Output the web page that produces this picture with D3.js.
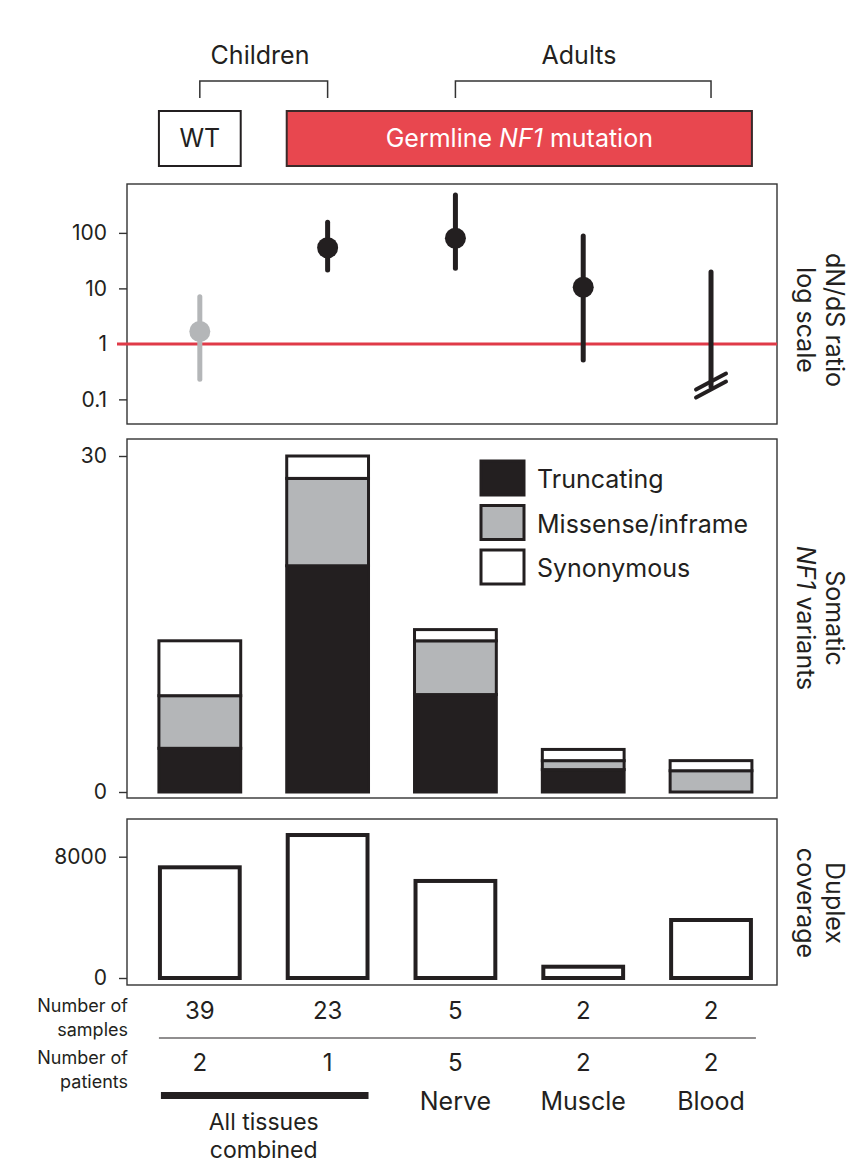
<!DOCTYPE html>
<html>
<head>
<meta charset="utf-8">
<script src="https://cdn.jsdelivr.net/npm/d3@7"></script>
<style>
  body { margin: 0; background: #fff; }
  text { font-family: Inter, "Open Sans", sans-serif; fill: #231f20; }
</style>
</head>
<body>
<div id="wrapper"></div>
<script>
// data
const groups = ["WT children", "NF1 children", "Nerve", "Muscle", "Blood"]
const dndsEst = [1.67, 54, 80, 10.5, null]
const dndsLow = [0.23, 21.5, 23, 0.51, 0.17]
const dndsHigh = [7.1, 155, 484, 88, 19.8]
const lowCut = [false, false, false, false, true]
const truncating = [3.9, 20.2, 8.7, 2.0, 0]
const missense = [4.7, 7.8, 4.8, 0.8, 1.9]
const synonymous = [4.9, 2.0, 1.0, 1.0, 0.9]
const coverage = [7300, 9430, 6400, 745, 3825]
const nSamples = [39, 23, 5, 2, 2]
const nPatients = [2, 1, 5, 2, 2]
const tissueLabels = ["", "", "Nerve", "Muscle", "Blood"]
const logTicks = [0.1, 1, 10, 100]
const variantTicks = [0, 30]
const coverageTicks = [0, 8000]
const variantKeys = ["Truncating", "Missense/inframe", "Synonymous"]

function drawChart() {
  const dims = {
    width: 851,
    height: 1165,
    left: 127,
    right: 777,
    p1: { top: 184, bottom: 424 },
    p2: { top: 439, bottom: 798 },
    p3: { top: 819, bottom: 985 }
  }
  const ink = "#231f20"
  const grey = "#b4b6b8"

  const svg = d3.select("#wrapper")
    .append("svg")
      .attr("width", dims.width)
      .attr("height", dims.height)

  // scales
  const x = d3.scaleBand()
    .domain(groups)
    .range([dims.left, dims.right])
    .paddingInner(0.36)
    .paddingOuter(0.223)
    .align(0.56)
  const bw = x.bandwidth()
  const cx = d => x(d) + bw / 2

  const yLog = d3.scaleLog()
    .domain([0.036, 760])
    .range([dims.p1.bottom, dims.p1.top])

  const yVar = d3.scaleLinear()
    .domain([0, 30])
    .range([792, 456])

  const yCov = d3.scaleLinear()
    .domain([0, 8000])
    .range([978, 856.7])

  // header
  svg.append("text").attr("x", 260).attr("y", 64)
    .attr("text-anchor", "middle").style("font-size", "25px").text("Children")
  svg.append("text").attr("x", 579).attr("y", 64)
    .attr("text-anchor", "middle").style("font-size", "25px").text("Adults")

  const bracket = (a, b) => `M${cx(a)},98V81H${cx(b)}V98`
  svg.append("path").attr("d", bracket(groups[0], groups[1]))
    .attr("fill", "none").attr("stroke", "#333").attr("stroke-width", 1.5)
  svg.append("path").attr("d", bracket(groups[2], groups[4]))
    .attr("fill", "none").attr("stroke", "#333").attr("stroke-width", 1.5)

  svg.append("rect")
    .attr("x", x(groups[0])).attr("y", 111)
    .attr("width", bw).attr("height", 55)
    .attr("fill", "#fff").attr("stroke", ink).attr("stroke-width", 2)
  svg.append("text").attr("x", cx(groups[0])).attr("y", 147)
    .attr("text-anchor", "middle").style("font-size", "25px").text("WT")

  svg.append("rect")
    .attr("x", x(groups[1])).attr("y", 111)
    .attr("width", x(groups[4]) + bw - x(groups[1])).attr("height", 55)
    .attr("fill", "#e8474f").attr("stroke", "#3a2a2a").attr("stroke-width", 2)
  const germ = svg.append("text")
    .attr("x", (x(groups[1]) + x(groups[4]) + bw) / 2).attr("y", 147)
    .attr("text-anchor", "middle").style("font-size", "25px")
  germ.append("tspan").style("fill", "#fff").text("Germline ")
  germ.append("tspan").style("fill", "#fff").style("font-style", "italic").text("NF1")
  germ.append("tspan").style("fill", "#fff").text(" mutation")

  // panel frames
  const frame = p => svg.append("rect")
    .attr("x", dims.left).attr("y", p.top)
    .attr("width", dims.right - dims.left).attr("height", p.bottom - p.top)
    .attr("fill", "none").attr("stroke", "#333").attr("stroke-width", 1.4)

  const axis = (scale, ticks, fmt) => {
    const g = svg.append("g")
      .attr("transform", `translate(${dims.left},0)`)
      .call(d3.axisLeft(scale).tickValues(ticks).tickFormat(fmt)
        .tickSize(8).tickPadding(12))
    g.select(".domain").remove()
    g.selectAll(".tick line").attr("stroke", "#333").attr("stroke-width", 1.4)
    g.selectAll(".tick text")
      .style("font-size", "21px").style("font-family", "Inter, sans-serif")
      .attr("fill", ink)
    return g
  }

  const sideLabel = (lines, yMid) => {
    lines.forEach((parts, i) => {
      const t = svg.append("text")
        .attr("transform", `translate(${826 - i * 29},${yMid}) rotate(90)`)
        .attr("text-anchor", "middle")
        .style("font-size", "25px")
      parts.forEach(p => t.append("tspan")
        .style("font-style", p.italic ? "italic" : "normal").text(p.t))
    })
  }

  // panel 1: dN/dS
  frame(dims.p1)
  axis(yLog, logTicks, d => d)

  svg.append("line")
    .attr("x1", 117).attr("x2", dims.right)
    .attr("y1", yLog(1)).attr("y2", yLog(1))
    .attr("stroke", "#e03a48").attr("stroke-width", 3)

  const ci = svg.append("g")
  groups.forEach((g, i) => {
    const col = i === 0 ? grey : ink
    ci.append("line")
      .attr("x1", cx(g)).attr("x2", cx(g))
      .attr("y1", yLog(dndsLow[i])).attr("y2", yLog(dndsHigh[i]))
      .attr("stroke", col).attr("stroke-width", 5).attr("stroke-linecap", "round")
    if (dndsEst[i] != null) {
      ci.append("circle")
        .attr("cx", cx(g)).attr("cy", yLog(dndsEst[i])).attr("r", 10.5)
        .attr("fill", col)
    }
    if (lowCut[i]) {
      [-4, 4].forEach(o => ci.append("line")
        .attr("x1", cx(g) - 15).attr("x2", cx(g) + 15)
        .attr("y1", yLog(dndsLow[i]) + 7 + o).attr("y2", yLog(dndsLow[i]) - 9 + o)
        .attr("stroke", ink).attr("stroke-width", 4).attr("stroke-linecap", "round"))
    }
  })

  sideLabel([[{ t: "dN/dS ratio" }], [{ t: "log scale" }]], 320)

  // panel 2: somatic variants
  frame(dims.p2)
  axis(yVar, variantTicks, d => d)

  const stackData = groups.map((g, i) => ({
    group: g,
    Truncating: truncating[i],
    "Missense/inframe": missense[i],
    Synonymous: synonymous[i]
  }))
  const series = d3.stack().keys(variantKeys)(stackData)
  const fills = { Truncating: ink, "Missense/inframe": grey, Synonymous: "#fff" }

  svg.append("g")
    .selectAll("g")
    .data(series)
    .join("g")
      .attr("fill", d => fills[d.key])
    .selectAll("rect")
    .data(d => d.filter(s => s[1] - s[0] > 0))
    .join("rect")
      .attr("x", d => x(d.data.group))
      .attr("y", d => yVar(d[1]))
      .attr("width", bw)
      .attr("height", d => yVar(d[0]) - yVar(d[1]))
      .attr("stroke", ink)
      .attr("stroke-width", 3)

  const legend = svg.append("g")
  variantKeys.forEach((k, i) => {
    legend.append("rect")
      .attr("x", 481).attr("y", 461 + i * 44.5)
      .attr("width", 43).attr("height", 34)
      .attr("fill", fills[k]).attr("stroke", ink).attr("stroke-width", 3)
    legend.append("text")
      .attr("x", 537).attr("y", 488 + i * 44.5)
      .style("font-size", "25px").text(k)
  })

  sideLabel([[{ t: "Somatic" }], [{ t: "NF1", italic: true }, { t: " variants" }]], 618)

  // panel 3: duplex coverage
  frame(dims.p3)
  axis(yCov, coverageTicks, d => d)

  svg.append("g")
    .selectAll("rect")
    .data(coverage)
    .join("rect")
      .attr("x", (d, i) => x(groups[i]) + 1)
      .attr("y", d => yCov(d))
      .attr("width", bw - 2)
      .attr("height", d => yCov(0) - yCov(d))
      .attr("fill", "#fff")
      .attr("stroke", ink)
      .attr("stroke-width", 4)

  sideLabel([[{ t: "Duplex" }], [{ t: "coverage" }]], 903)

  // table below
  const rowHead = (lines, y0) => lines.forEach((l, i) => svg.append("text")
    .attr("x", 128).attr("y", y0 + i * 23.5)
    .attr("text-anchor", "end").style("font-size", "18px").text(l))

  rowHead(["Number of", "samples"], 1012)
  rowHead(["Number of", "patients"], 1064)

  svg.append("g").selectAll("text")
    .data(nSamples)
    .join("text")
      .attr("x", (d, i) => cx(groups[i]))
      .attr("y", 1019)
      .attr("text-anchor", "middle")
      .style("font-size", "24px")
      .text(d => d)

  svg.append("line")
    .attr("x1", x(groups[0])).attr("x2", x(groups[4]) + bw + 4)
    .attr("y1", 1038).attr("y2", 1038)
    .attr("stroke", ink).attr("stroke-width", 1.2)

  svg.append("g").selectAll("text")
    .data(nPatients)
    .join("text")
      .attr("x", (d, i) => cx(groups[i]))
      .attr("y", 1071)
      .attr("text-anchor", "middle")
      .style("font-size", "24px")
      .text(d => d)

  svg.append("rect")
    .attr("x", x(groups[0]) + 2).attr("y", 1092)
    .attr("width", x(groups[1]) + bw - x(groups[0]) - 2).attr("height", 7)
    .attr("fill", ink)

  svg.append("g").selectAll("text")
    .data(tissueLabels)
    .join("text")
      .attr("x", (d, i) => cx(groups[i]))
      .attr("y", 1110)
      .attr("text-anchor", "middle")
      .style("font-size", "25px")
      .text(d => d)

  const allMid = (x(groups[0]) + x(groups[1]) + bw) / 2
  svg.append("text").attr("x", allMid).attr("y", 1130)
    .attr("text-anchor", "middle").style("font-size", "23px").text("All tissues")
  svg.append("text").attr("x", allMid).attr("y", 1158)
    .attr("text-anchor", "middle").style("font-size", "23px").text("combined")
}
drawChart()
</script>
</body>
</html>
